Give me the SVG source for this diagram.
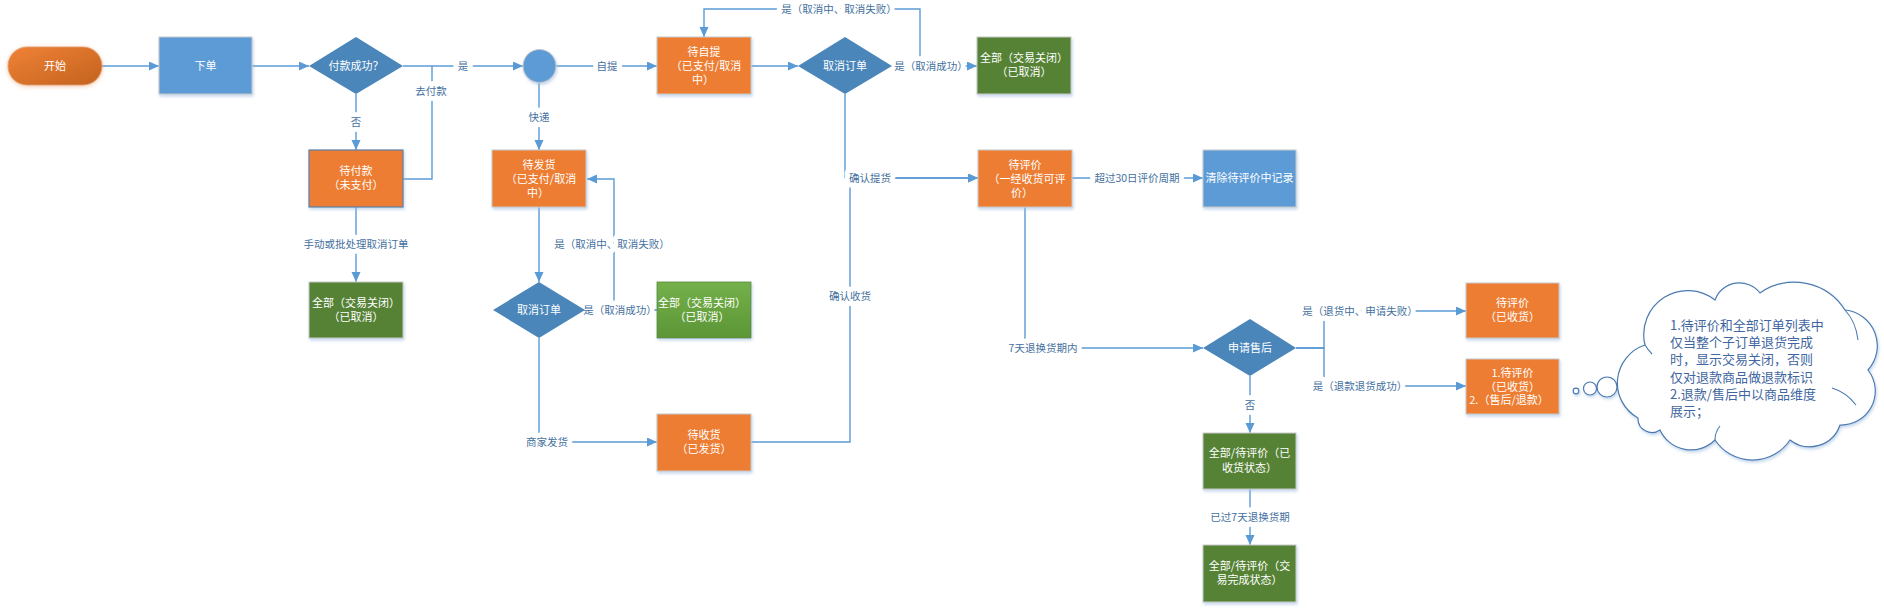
<svg xmlns="http://www.w3.org/2000/svg" width="1884" height="610" viewBox="0 0 1884 610">
<defs>
<style>
.n text{font-family:"Noto Sans CJK SC","Liberation Sans",sans-serif;font-size:11px;fill:#fff;text-anchor:middle}
.or{fill:#ED7D31;stroke:#c9c9c9;stroke-width:1}
.bl{fill:#5B9BD5;stroke:#c9c9c9;stroke-width:1}
.gr{fill:#548235;stroke:#c9c9c9;stroke-width:1}
.dm{fill:#4A86BA}
.c path{fill:none;stroke:#5B9BD5;stroke-width:1.4}
.c path.a{marker-end:url(#ah)}
.lb text{font-family:"Noto Sans CJK SC","Liberation Sans",sans-serif;font-size:10.5px;fill:#44709e;text-anchor:middle;stroke:#fff;stroke-width:10px;paint-order:stroke;stroke-linejoin:round}
.cl{font-family:"Noto Sans CJK SC","Liberation Sans",sans-serif;font-size:13px;fill:#3f66a0}
</style>
<marker id="ah" markerUnits="userSpaceOnUse" markerWidth="10" markerHeight="10" refX="10" refY="4.5" orient="auto">
<path d="M0,0 L10,4.5 L0,9 Z" fill="#5B9BD5"/>
</marker>
<filter id="sh" x="-10%" y="-10%" width="130%" height="140%">
<feDropShadow dx="1" dy="2" stdDeviation="1.5" flood-color="#9fbde0" flood-opacity="0.6"/>
</filter>
<filter id="gl" x="-20%" y="-30%" width="140%" height="170%">
<feDropShadow dx="0" dy="1" stdDeviation="2" flood-color="#e8a070" flood-opacity="0.6"/>
</filter>
<linearGradient id="og" x1="0" y1="0" x2="1" y2="1">
<stop offset="0" stop-color="#F08236"/>
<stop offset="1" stop-color="#C3621F"/>
</linearGradient>
<linearGradient id="lg" x1="0" y1="0" x2="0" y2="1">
<stop offset="0" stop-color="#74B04A"/>
<stop offset="1" stop-color="#5C9636"/>
</linearGradient>
</defs>
<rect width="1884" height="610" fill="#fff"/>

<g id="connectors" class="c">
<path class="a" d="M102,66 H159"/>
<path class="a" d="M252,66 H309"/>
<path class="a" d="M403,66 H523"/>
<path class="a" d="M356,94 V150"/>
<path d="M403,179 H432 V66"/>
<path class="a" d="M556,66 H657"/>
<path class="a" d="M539,83 V150"/>
<path class="a" d="M751,66 H798"/>
<path class="a" d="M892,66 H920 V9 H704 V37"/>
<path class="a" d="M892,66 H977"/>
<path class="a" d="M356,207 V282"/>
<path class="a" d="M539,207 V282"/>
<path class="a" d="M585,310 H657"/>
<path class="a" d="M585,310 H614 V179 H587"/>
<path class="a" d="M539,338 V442 H657"/>
<path class="a" d="M845,94 V178 H978"/>
<path class="a" d="M751,442 H850 V178 H978"/>
<path class="a" d="M1072,178 H1203"/>
<path class="a" d="M1025,207 V348 H1203"/>
<path class="a" d="M1296,348 H1324 V311 H1466"/>
<path class="a" d="M1296,348 H1324 V386 H1466"/>
<path class="a" d="M1250,376 V433"/>
<path class="a" d="M1250,489 V545"/>
</g>

<g id="labels" class="lb">
<text x="463" y="70">是</text>
<text x="356" y="126">否</text>
<text x="431" y="95">去付款</text>
<text x="607" y="70">自提</text>
<text x="539" y="121">快递</text>
<text x="839" y="13">是（取消中、取消失败）</text>
<text x="931" y="70">是（取消成功）</text>
<text x="356" y="248">手动或批处理取消订单</text>
<text x="620" y="314">是（取消成功）</text>
<text x="612" y="248">是（取消中、取消失败）</text>
<text x="547" y="446">商家发货</text>
<text x="870" y="182">确认提货</text>
<text x="850" y="300">确认收货</text>
<text x="1137" y="182">超过30日评价周期</text>
<text x="1043" y="352">7天退换货期内</text>
<text x="1360" y="315">是（退货中、申请失败）</text>
<text x="1360" y="390">是（退款退货成功）</text>
<text x="1250" y="409">否</text>
<text x="1250" y="521">已过7天退换货期</text>
</g>

<g id="start" class="n"><rect x="8" y="47" width="94" height="38" rx="19" fill="url(#og)" stroke="#e0a070" stroke-width="0.8" filter="url(#gl)"/><text x="55" y="70">开始</text></g>
<g id="order" class="n"><rect class="bl" x="159" y="37" width="93" height="57" filter="url(#sh)"/><text x="205.5" y="70">下单</text></g>
<g id="paid" class="n"><polygon class="dm" points="356,37 403,66 356,94 309,66"/><text x="356" y="70">付款成功？</text></g>
<g id="unpaid" class="n"><rect x="309" y="150" width="94" height="57" fill="#ED7D31" stroke="#5a7fa8" stroke-width="1.2" filter="url(#sh)"/><text x="356" y="175">待付款</text><text x="356" y="189">（未支付）</text></g>
<g id="closed1" class="n"><rect class="gr" x="309" y="282" width="94" height="56" filter="url(#sh)"/><text x="356" y="307">全部（交易关闭）</text><text x="356" y="321">（已取消）</text></g>
<g id="branch" class="n"><circle cx="539.5" cy="66" r="16.5" fill="#5B9BD5" stroke="#c9c9c9" stroke-width="1" filter="url(#sh)"/></g>
<g id="pickup" class="n"><rect class="or" x="657" y="37" width="94" height="57" filter="url(#sh)"/><text x="704" y="56">待自提</text><text x="706" y="70">（已支付/取消</text><text x="703" y="83.5">中）</text></g>
<g id="cancel1" class="n"><polygon class="dm" points="845,37 892,66 845,94 798,66"/><text x="845" y="70">取消订单</text></g>
<g id="closed2" class="n"><rect class="gr" x="977" y="37" width="94" height="57" filter="url(#sh)"/><text x="1024" y="62">全部（交易关闭）</text><text x="1024" y="76">（已取消）</text></g>
<g id="toship" class="n"><rect class="or" x="492" y="150" width="94" height="57" filter="url(#sh)"/><text x="539" y="169">待发货</text><text x="541" y="183">（已支付/取消</text><text x="538" y="196.5">中）</text></g>
<g id="cancel2" class="n"><polygon class="dm" points="539,282 585,310 539,338 493,310"/><text x="539" y="314">取消订单</text></g>
<g id="closed3" class="n"><rect x="657" y="282" width="94" height="56" fill="url(#lg)" stroke="#5a8a3a" stroke-width="0.8" filter="url(#sh)"/><text x="702" y="307">全部（交易关闭）</text><text x="702" y="321">（已取消）</text></g>
<g id="toreceive" class="n"><rect class="or" x="657" y="414" width="94" height="57" filter="url(#sh)"/><text x="704" y="439">待收货</text><text x="704" y="453">（已发货）</text></g>
<g id="toreview" class="n"><rect class="or" x="978" y="150" width="94" height="57" filter="url(#sh)"/><text x="1025" y="169">待评价</text><text x="1027" y="183">（一经收货可评</text><text x="1022" y="196.5">价）</text></g>
<g id="clear" class="n"><rect class="bl" x="1203" y="150" width="93" height="57" filter="url(#sh)"/><text x="1249.5" y="182">清除待评价中记录</text></g>
<g id="aftersale" class="n"><polygon class="dm" points="1250,319 1296,348 1250,376 1203,348"/><text x="1250" y="352">申请售后</text></g>
<g id="review2" class="n"><rect class="or" x="1466" y="283" width="93" height="55" filter="url(#sh)"/><text x="1512.5" y="307">待评价</text><text x="1512.5" y="321">（已收货）</text></g>
<g id="review3" class="n"><rect class="or" x="1466" y="359" width="93" height="55" filter="url(#sh)"/><text x="1512.5" y="377">1.待评价</text><text x="1512.5" y="390.5">（已收货）</text><text x="1509" y="404">2.（售后/退款）</text></g>
<g id="received" class="n"><rect class="gr" x="1203" y="433" width="93" height="56" filter="url(#sh)"/><text x="1249.5" y="457">全部/待评价（已</text><text x="1249.5" y="472">收货状态）</text></g>
<g id="done" class="n"><rect class="gr" x="1203" y="545" width="93" height="57" filter="url(#sh)"/><text x="1249.5" y="570">全部/待评价（交</text><text x="1249.5" y="584">易完成状态）</text></g>

<g id="note">
<g fill="#fff" stroke="#4a7ab0" stroke-width="1.2" filter="url(#sh)">
<circle cx="1576" cy="391" r="2.8"/>
<circle cx="1590" cy="388.5" r="6.5"/>
<circle cx="1607" cy="387" r="10"/>
<path d="M1638,418 A40,40 0 0 1 1645,345 A44,44 0 0 1 1715,300 A26,26 0 0 1 1760,293 A60,60 0 0 1 1845,310 A36,36 0 0 1 1868,370 A34,34 0 0 1 1840,425 A32,32 0 0 1 1790,440 A45,45 0 0 1 1715,440 A34,34 0 0 1 1660,430 A14,14 0 0 1 1638,418 Z"/>
</g>
<g fill="none" stroke="#4a7ab0" stroke-width="1.1">
<path d="M1845,310 Q1856,322 1858,340"/>
<path d="M1832,388 Q1846,392 1856,405"/>
<path d="M1715,440 Q1715,432 1720,426"/>
<path d="M1645,345 Q1648,350 1652,354"/>
</g>
<text class="cl"><tspan x="1670" y="330">1.待评价和全部订单列表中</tspan><tspan x="1670" y="347.2">仅当整个子订单退货完成</tspan><tspan x="1670" y="364.4">时，显示交易关闭，否则</tspan><tspan x="1670" y="381.6">仅对退款商品做退款标识</tspan><tspan x="1670" y="398.8">2.退款/售后中以商品维度</tspan><tspan x="1670" y="416">展示；</tspan></text>
</g>
</svg>
